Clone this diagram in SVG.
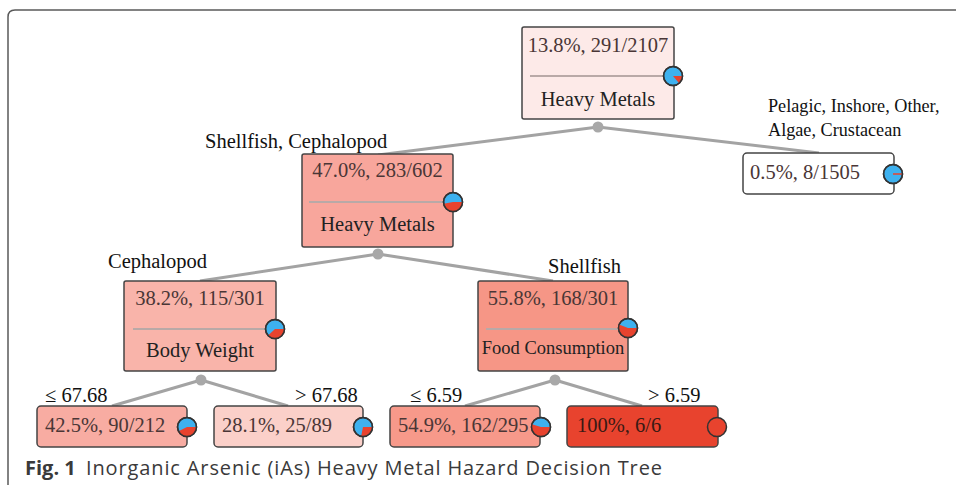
<svg xmlns="http://www.w3.org/2000/svg" width="956" height="485" viewBox="0 0 956 485">
<style>
.frame{fill:none;stroke:#5a5a5a;stroke-width:1.5}
.box{stroke:#444;stroke-width:1.5}
.div{stroke:#b9a9a7;stroke-width:2}
.edge{stroke:#a3a3a3;stroke-width:3;fill:none}
.dot{fill:#a8a8a8}
.t{font-family:"Liberation Serif","Times New Roman",serif;font-size:20.5px;fill:#222}
.p{font-family:"Liberation Serif","Times New Roman",serif;font-size:20.5px;fill:#4a3636}
.lab{font-family:"Liberation Serif","Times New Roman",serif;font-size:20.5px;fill:#111}
.blue{fill:#3eb1ef;stroke:#333;stroke-width:1.5}
.red{fill:#e8432e}
.ring{fill:none;stroke:#333;stroke-width:1.5}
.cap{font-family:"Open Sans","Liberation Sans",sans-serif;font-size:20px;fill:#3a3a3a}
</style>
<rect width="956" height="485" fill="#fff"/>
<path class="frame" d="M8,485 L8,17 Q8,10 15,10 L956,10"/>

<g id="connectors">
<path class="edge" d="M598,127 L378,155 M598,127 L819,153"/>
<path class="edge" d="M378,254 L200,281 M378,254 L553,281"/>
<path class="edge" d="M201,380 L112,406 M201,380 L288,406"/>
<path class="edge" d="M555,380 L465,406 M555,380 L642,406"/>
<circle class="dot" cx="598" cy="127" r="5.5"/>
<circle class="dot" cx="378" cy="254" r="5.5"/>
<circle class="dot" cx="201" cy="380" r="5.5"/>
<circle class="dot" cx="555" cy="380" r="5.5"/>
<text class="lab" x="205" y="148">Shellfish, Cephalopod</text>
<text class="lab" x="768" y="112" style="font-size:18.2px">Pelagic, Inshore, Other,</text>
<text class="lab" x="768" y="136" style="font-size:18.2px">Algae, Crustacean</text>
<text class="lab" x="108" y="268">Cephalopod</text>
<text class="lab" x="548" y="273">Shellfish</text>
<text class="lab" x="45" y="402">≤ 67.68</text>
<text class="lab" x="295" y="402">&gt; 67.68</text>
<text class="lab" x="410" y="402">≤ 6.59</text>
<text class="lab" x="648" y="402">&gt; 6.59</text>
</g>

<g id="root">
<rect class="box" x="522" y="27" width="152" height="92" rx="2" fill="#fdeae8"/>
<text class="p" x="598" y="52" text-anchor="middle">13.8%, 291/2107</text>
<line class="div" x1="530" y1="76" x2="666" y2="76"/>
<text class="t" x="598" y="106" text-anchor="middle">Heavy Metals</text>
<circle class="blue" cx="673" cy="76" r="9.5"/>
<path class="red" d="M673,76 L682.5,76 A9.5,9.5 0 0 1 679.15,83.25 Z"/>
<circle class="ring" cx="673" cy="76" r="9.5"/>
</g>

<g id="node-shellfish-cephalopod">
<rect class="box" x="302" y="154" width="151" height="93" rx="2" fill="#f8a69c"/>
<text class="p" x="377.5" y="177" text-anchor="middle">47.0%, 283/602</text>
<line class="div" x1="309" y1="202" x2="446" y2="202"/>
<text class="t" x="377.5" y="231" text-anchor="middle">Heavy Metals</text>
<circle class="blue" cx="453" cy="202" r="9.5"/>
<path class="red" d="M453,202 L462.5,202 A9.5,9.5 0 0 1 443.67,203.78 Z"/>
<circle class="ring" cx="453" cy="202" r="9.5"/>
</g>

<g id="leaf-other">
<rect class="box" x="743" y="153" width="151" height="41" rx="4" fill="#ffffff"/>
<text class="p" x="750" y="179">0.5%, 8/1505</text>
<circle class="blue" cx="893" cy="174" r="9.5"/>
<line x1="893" y1="174" x2="902.5" y2="174" stroke="#e8432e" stroke-width="1.5"/>
<circle class="ring" cx="893" cy="174" r="9.5"/>
</g>

<g id="node-cephalopod">
<rect class="box" x="124" y="281" width="152" height="90" rx="2" fill="#f9b4aa"/>
<text class="p" x="200" y="305" text-anchor="middle">38.2%, 115/301</text>
<line class="div" x1="133" y1="329" x2="268" y2="329"/>
<text class="t" x="200" y="357" text-anchor="middle">Body Weight</text>
<circle class="blue" cx="275" cy="329" r="9.5"/>
<path class="red" d="M275,329 L284.5,329 A9.5,9.5 0 0 1 268,335.42 Z"/>
<circle class="ring" cx="275" cy="329" r="9.5"/>
</g>

<g id="node-shellfish">
<rect class="box" x="478" y="281" width="150" height="90" rx="2" fill="#f69686"/>
<text class="p" x="553" y="305" text-anchor="middle">55.8%, 168/301</text>
<line class="div" x1="486" y1="329" x2="620" y2="329"/>
<text class="t" x="553" y="354" text-anchor="middle" style="font-size:18.5px">Food Consumption</text>
<circle class="blue" cx="628" cy="328" r="9.5"/>
<path class="red" d="M628,328 L637.5,328 A9.5,9.5 0 1 1 619.12,324.61 Z"/>
<circle class="ring" cx="628" cy="328" r="9.5"/>
</g>

<g id="leaf-bw-le">
<rect class="box" x="37" y="406" width="150" height="41" rx="4" fill="#f8aca2"/>
<text class="p" x="45" y="432">42.5%, 90/212</text>
<circle class="blue" cx="187" cy="427" r="9.5"/>
<path class="red" d="M187,427 L196.5,427 A9.5,9.5 0 0 1 178.54,431.31 Z"/>
<circle class="ring" cx="187" cy="427" r="9.5"/>
</g>

<g id="leaf-bw-gt">
<rect class="box" x="214" y="406" width="149" height="41" rx="4" fill="#fbd0c9"/>
<text class="p" x="222" y="432">28.1%, 25/89</text>
<circle class="blue" cx="363" cy="427" r="9.5"/>
<path class="red" d="M363,427 L372.5,427 A9.5,9.5 0 0 1 361.16,436.32 Z"/>
<circle class="ring" cx="363" cy="427" r="9.5"/>
</g>

<g id="leaf-fc-le">
<rect class="box" x="390" y="406" width="150" height="41" rx="4" fill="#f7998a"/>
<text class="p" x="398" y="432">54.9%, 162/295</text>
<circle class="blue" cx="541" cy="427" r="9.5"/>
<path class="red" d="M541,427 L550.5,427 A9.5,9.5 0 1 1 531.95,424.13 Z"/>
<circle class="ring" cx="541" cy="427" r="9.5"/>
</g>

<g id="leaf-fc-gt">
<rect class="box" x="567" y="406" width="151" height="41" rx="4" fill="#e8432e"/>
<text class="p" x="577" y="432" style="fill:#3a1a14">100%, 6/6</text>
<circle cx="717" cy="427" r="9.5" fill="#e8432e" stroke="#333" stroke-width="1.5"/>
</g>

<text class="cap" x="25" y="475"><tspan font-weight="bold">Fig. 1</tspan><tspan x="86" textLength="576" lengthAdjust="spacing">Inorganic Arsenic (iAs) Heavy Metal Hazard Decision Tree</tspan></text>
</svg>
